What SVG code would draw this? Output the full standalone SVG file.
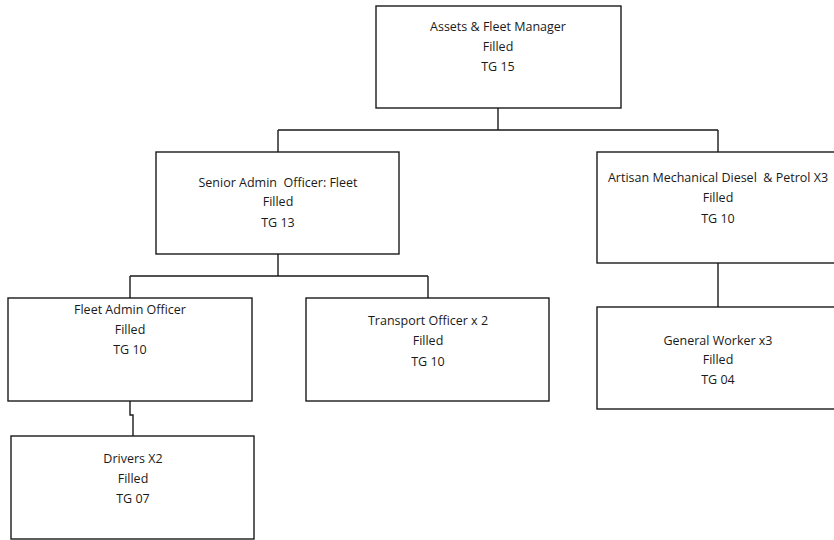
<svg xmlns="http://www.w3.org/2000/svg" width="834" height="540" viewBox="0 0 834 540">
<style>
.box{fill:#fff;stroke:#1a1a1a;stroke-width:1.4}
.ln{fill:none;stroke:#1a1a1a;stroke-width:1.4}
text{font-family:"Open Sans","Liberation Sans",sans-serif;font-size:12.5px;fill:#1a1a1a;text-anchor:middle;white-space:pre}
</style>
<rect width="834" height="540" fill="#fff"/>
<g id="connectors">
<path class="ln" d="M498,108V130M278,130H718M278,130V152M718,130V152"/>
<path class="ln" d="M278,254V276M130,276H428M130,276V298M428,276V298"/>
<path class="ln" d="M130,401V415H133V436"/>
<path class="ln" d="M718,263V307"/>
</g>
<g id="n-manager">
<rect class="box" x="376" y="6" width="245" height="102"/>
<text x="498" y="31">Assets &amp; Fleet Manager</text>
<text x="498" y="51">Filled</text>
<text x="498" y="71">TG 15</text>
</g>
<g id="n-senior">
<rect class="box" x="156" y="152" width="243" height="102"/>
<text x="278" y="187" xml:space="preserve">Senior Admin  Officer: Fleet</text>
<text x="278" y="206">Filled</text>
<text x="278" y="227">TG 13</text>
</g>
<g id="n-artisan">
<rect class="box" x="597" y="152" width="242" height="111"/>
<text x="718" y="182" xml:space="preserve">Artisan Mechanical Diesel  &amp; Petrol X3</text>
<text x="718" y="202">Filled</text>
<text x="718" y="223">TG 10</text>
</g>
<g id="n-fleetadmin">
<rect class="box" x="8" y="298" width="244" height="103"/>
<text x="130" y="314">Fleet Admin Officer</text>
<text x="130" y="334">Filled</text>
<text x="130" y="354">TG 10</text>
</g>
<g id="n-transport">
<rect class="box" x="306" y="298" width="243" height="103"/>
<text x="428" y="325">Transport Officer x 2</text>
<text x="428" y="345">Filled</text>
<text x="428" y="366">TG 10</text>
</g>
<g id="n-general">
<rect class="box" x="597" y="307" width="242" height="102"/>
<text x="718" y="345">General Worker x3</text>
<text x="718" y="364">Filled</text>
<text x="718" y="384">TG 04</text>
</g>
<g id="n-drivers">
<rect class="box" x="11" y="436" width="243" height="103"/>
<text x="133" y="463">Drivers X2</text>
<text x="133" y="483">Filled</text>
<text x="133" y="503">TG 07</text>
</g>
</svg>
